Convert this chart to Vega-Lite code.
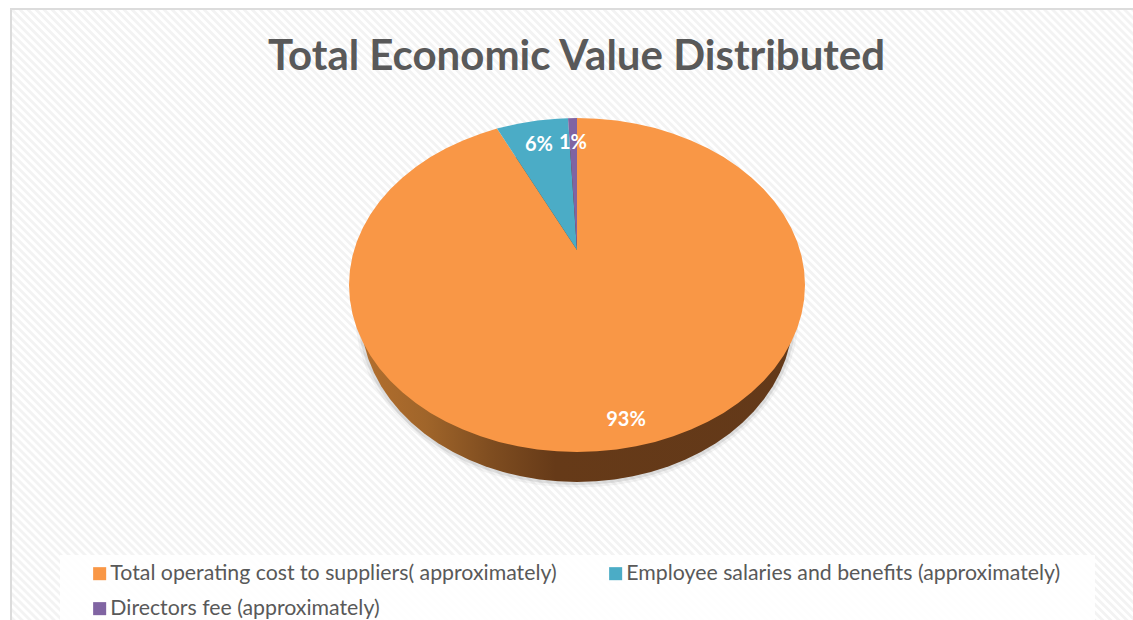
{
"$schema":"https://vega.github.io/schema/vega-lite/v6.json",
"autosize":{"type":"none"},
"width":1121,"height":610,
"padding":{"left":12,"top":10,"right":0,"bottom":0},
"background":"#ffffff",
"view":{"stroke":null},
"title":{"text":"Total Economic Value Distributed","font":"Lato","fontWeight":"bold","fontSize":42,"color":"#595959","anchor":"middle","frame":"group","offset":-72,"dx":4},
"datasets":{
"slices":[
{"id":1,"slice":"Total operating cost to suppliers( approximately)","share":0.934},
{"id":2,"slice":"Employee salaries and benefits (approximately)","share":0.059},
{"id":3,"slice":"Directors fee (approximately)","share":0.007}],
"hatch":[{"x0":0,"y0":610,"x1":1000,"y1":-390}],
"frame":[{"x0":-1,"y0":-2,"x1":-1,"y1":610},{"x0":-2,"y0":-1,"x1":1121,"y1":-1}],
"panel":[{"x0":48,"y0":545,"x1":1083,"y1":610}],
"rim":[
{"n":0,"u":0,"v":1},{"n":1,"u":0.0872,"v":0.9962},{"n":2,"u":0.1736,"v":0.9848},{"n":3,"u":0.2588,"v":0.9659},{"n":4,"u":0.342,"v":0.9397},{"n":5,"u":0.4226,"v":0.9063},{"n":6,"u":0.5,"v":0.866},{"n":7,"u":0.5736,"v":0.8192},{"n":8,"u":0.6428,"v":0.766},{"n":9,"u":0.7071,"v":0.7071},{"n":10,"u":0.766,"v":0.6428},{"n":11,"u":0.8192,"v":0.5736},{"n":12,"u":0.866,"v":0.5},{"n":13,"u":0.9063,"v":0.4226},{"n":14,"u":0.9397,"v":0.342},{"n":15,"u":0.9659,"v":0.2588},{"n":16,"u":0.9848,"v":0.1736},{"n":17,"u":0.9962,"v":0.0872},
{"n":18,"u":1,"v":0},{"n":19,"u":0.9962,"v":-0.0872},{"n":20,"u":0.9848,"v":-0.1736},{"n":21,"u":0.9659,"v":-0.2588},{"n":22,"u":0.9397,"v":-0.342},{"n":23,"u":0.9063,"v":-0.4226},{"n":24,"u":0.866,"v":-0.5},{"n":25,"u":0.8192,"v":-0.5736},{"n":26,"u":0.766,"v":-0.6428},{"n":27,"u":0.7071,"v":-0.7071},{"n":28,"u":0.6428,"v":-0.766},{"n":29,"u":0.5736,"v":-0.8192},{"n":30,"u":0.5,"v":-0.866},{"n":31,"u":0.4226,"v":-0.9063},{"n":32,"u":0.342,"v":-0.9397},{"n":33,"u":0.2588,"v":-0.9659},{"n":34,"u":0.1736,"v":-0.9848},{"n":35,"u":0.0872,"v":-0.9962},
{"n":36,"u":0,"v":-1},{"n":37,"u":-0.0872,"v":-0.9962},{"n":38,"u":-0.1736,"v":-0.9848},{"n":39,"u":-0.2588,"v":-0.9659},{"n":40,"u":-0.342,"v":-0.9397},{"n":41,"u":-0.4226,"v":-0.9063},{"n":42,"u":-0.5,"v":-0.866},{"n":43,"u":-0.5736,"v":-0.8192},{"n":44,"u":-0.6428,"v":-0.766},{"n":45,"u":-0.7071,"v":-0.7071},{"n":46,"u":-0.766,"v":-0.6428},{"n":47,"u":-0.8192,"v":-0.5736},{"n":48,"u":-0.866,"v":-0.5},{"n":49,"u":-0.9063,"v":-0.4226},{"n":50,"u":-0.9397,"v":-0.342},{"n":51,"u":-0.9659,"v":-0.2588},{"n":52,"u":-0.9848,"v":-0.1736},{"n":53,"u":-0.9962,"v":-0.0872},
{"n":54,"u":-1,"v":0},{"n":55,"u":-0.9962,"v":0.0872},{"n":56,"u":-0.9848,"v":0.1736},{"n":57,"u":-0.9659,"v":0.2588},{"n":58,"u":-0.9397,"v":0.342},{"n":59,"u":-0.9063,"v":0.4226},{"n":60,"u":-0.866,"v":0.5},{"n":61,"u":-0.8192,"v":0.5736},{"n":62,"u":-0.766,"v":0.6428},{"n":63,"u":-0.7071,"v":0.7071},{"n":64,"u":-0.6428,"v":0.766},{"n":65,"u":-0.5736,"v":0.8192},{"n":66,"u":-0.5,"v":0.866},{"n":67,"u":-0.4226,"v":0.9063},{"n":68,"u":-0.342,"v":0.9397},{"n":69,"u":-0.2588,"v":0.9659},{"n":70,"u":-0.1736,"v":0.9848},{"n":71,"u":-0.0872,"v":0.9962}],
"wedges":[
{"id":1,"n":0,"u":0,"v":0.2096},
{"id":1,"n":1,"u":0,"v":1},{"id":1,"n":2,"u":0.0872,"v":0.9962},{"id":1,"n":3,"u":0.1736,"v":0.9848},{"id":1,"n":4,"u":0.2588,"v":0.9659},{"id":1,"n":5,"u":0.342,"v":0.9397},{"id":1,"n":6,"u":0.4226,"v":0.9063},{"id":1,"n":7,"u":0.5,"v":0.866},{"id":1,"n":8,"u":0.5736,"v":0.8192},{"id":1,"n":9,"u":0.6428,"v":0.766},{"id":1,"n":10,"u":0.7071,"v":0.7071},{"id":1,"n":11,"u":0.766,"v":0.6428},{"id":1,"n":12,"u":0.8192,"v":0.5736},{"id":1,"n":13,"u":0.866,"v":0.5},{"id":1,"n":14,"u":0.9063,"v":0.4226},{"id":1,"n":15,"u":0.9397,"v":0.342},{"id":1,"n":16,"u":0.9659,"v":0.2588},{"id":1,"n":17,"u":0.9848,"v":0.1736},{"id":1,"n":18,"u":0.9962,"v":0.0872},
{"id":1,"n":19,"u":1,"v":0},{"id":1,"n":20,"u":0.9962,"v":-0.0872},{"id":1,"n":21,"u":0.9848,"v":-0.1736},{"id":1,"n":22,"u":0.9659,"v":-0.2588},{"id":1,"n":23,"u":0.9397,"v":-0.342},{"id":1,"n":24,"u":0.9063,"v":-0.4226},{"id":1,"n":25,"u":0.866,"v":-0.5},{"id":1,"n":26,"u":0.8192,"v":-0.5736},{"id":1,"n":27,"u":0.766,"v":-0.6428},{"id":1,"n":28,"u":0.7071,"v":-0.7071},{"id":1,"n":29,"u":0.6428,"v":-0.766},{"id":1,"n":30,"u":0.5736,"v":-0.8192},{"id":1,"n":31,"u":0.5,"v":-0.866},{"id":1,"n":32,"u":0.4226,"v":-0.9063},{"id":1,"n":33,"u":0.342,"v":-0.9397},{"id":1,"n":34,"u":0.2588,"v":-0.9659},{"id":1,"n":35,"u":0.1736,"v":-0.9848},{"id":1,"n":36,"u":0.0872,"v":-0.9962},
{"id":1,"n":37,"u":0,"v":-1},{"id":1,"n":38,"u":-0.0872,"v":-0.9962},{"id":1,"n":39,"u":-0.1736,"v":-0.9848},{"id":1,"n":40,"u":-0.2588,"v":-0.9659},{"id":1,"n":41,"u":-0.342,"v":-0.9397},{"id":1,"n":42,"u":-0.4226,"v":-0.9063},{"id":1,"n":43,"u":-0.5,"v":-0.866},{"id":1,"n":44,"u":-0.5736,"v":-0.8192},{"id":1,"n":45,"u":-0.6428,"v":-0.766},{"id":1,"n":46,"u":-0.7071,"v":-0.7071},{"id":1,"n":47,"u":-0.766,"v":-0.6428},{"id":1,"n":48,"u":-0.8192,"v":-0.5736},{"id":1,"n":49,"u":-0.866,"v":-0.5},{"id":1,"n":50,"u":-0.9063,"v":-0.4226},{"id":1,"n":51,"u":-0.9397,"v":-0.342},{"id":1,"n":52,"u":-0.9659,"v":-0.2588},{"id":1,"n":53,"u":-0.9848,"v":-0.1736},{"id":1,"n":54,"u":-0.9962,"v":-0.0872},
{"id":1,"n":55,"u":-1,"v":0},{"id":1,"n":56,"u":-0.9962,"v":0.0872},{"id":1,"n":57,"u":-0.9848,"v":0.1736},{"id":1,"n":58,"u":-0.9659,"v":0.2588},{"id":1,"n":59,"u":-0.9397,"v":0.342},{"id":1,"n":60,"u":-0.9063,"v":0.4226},{"id":1,"n":61,"u":-0.866,"v":0.5},{"id":1,"n":62,"u":-0.8192,"v":0.5736},{"id":1,"n":63,"u":-0.766,"v":0.6428},{"id":1,"n":64,"u":-0.7071,"v":0.7071},{"id":1,"n":65,"u":-0.6428,"v":0.766},{"id":1,"n":66,"u":-0.5736,"v":0.8192},{"id":1,"n":67,"u":-0.5,"v":0.866},{"id":1,"n":68,"u":-0.4226,"v":0.9063},{"id":1,"n":69,"u":-0.351,"v":0.9364},
{"id":2,"n":0,"u":0,"v":0.2096},{"id":2,"n":1,"u":-0.351,"v":0.9364},{"id":2,"n":2,"u":-0.2588,"v":0.9659},{"id":2,"n":3,"u":-0.1736,"v":0.9848},{"id":2,"n":4,"u":-0.0872,"v":0.9962},{"id":2,"n":5,"u":-0.0395,"v":0.9992},
{"id":3,"n":0,"u":0,"v":0.2096},{"id":3,"n":1,"u":-0.0395,"v":0.9992},{"id":3,"n":2,"u":0,"v":1}]
},
"layer":[
{"data":{"name":"hatch"},
 "mark":{"type":"rule","clip":true,"color":"#f3f3f3","strokeWidth":1700,"strokeDash":[2.83,2.83]},
 "encoding":{
  "x":{"field":"x0","type":"quantitative","scale":{"domain":[0,1121],"nice":false,"zero":false},"axis":null},
  "x2":{"field":"x1"},
  "y":{"field":"y0","type":"quantitative","scale":{"domain":[610,0],"nice":false,"zero":false},"axis":null},
  "y2":{"field":"y1"}}},
{"data":{"name":"frame"},
 "mark":{"type":"rule","color":"#dcdcdc","strokeWidth":2},
 "encoding":{
  "x":{"field":"x0","type":"quantitative","scale":{"domain":[0,1121],"nice":false,"zero":false},"axis":null},
  "x2":{"field":"x1"},
  "y":{"field":"y0","type":"quantitative","scale":{"domain":[610,0],"nice":false,"zero":false},"axis":null},
  "y2":{"field":"y1"}}},
{"data":{"name":"panel"},
 "mark":{"type":"rect","color":"#ffffff","opacity":0.85},
 "encoding":{
  "x":{"field":"x0","type":"quantitative","scale":{"domain":[0,1121],"nice":false,"zero":false},"axis":null},
  "x2":{"field":"x1"},
  "y":{"field":"y0","type":"quantitative","scale":{"domain":[610,0],"nice":false,"zero":false},"axis":null},
  "y2":{"field":"y1"}}},
{"data":{"name":"rim"},
 "mark":{"type":"line","interpolate":"linear-closed","color":"#9a9a9a","strokeWidth":11,"opacity":0.12},
 "encoding":{
  "order":{"field":"n"},
  "x":{"field":"u","type":"quantitative","scale":{"domain":[-2.6157,2.5741],"nice":false,"zero":false},"axis":null},
  "y":{"field":"v","type":"quantitative","scale":{"domain":[-1.8313,1.8434],"nice":false,"zero":false},"axis":null}}},
{"data":{"name":"rim"},
 "mark":{"type":"line","interpolate":"linear-closed","color":"#8a8a8a","strokeWidth":6,"opacity":0.2},
 "encoding":{
  "order":{"field":"n"},
  "x":{"field":"u","type":"quantitative","scale":{"domain":[-2.6157,2.5741],"nice":false,"zero":false},"axis":null},
  "y":{"field":"v","type":"quantitative","scale":{"domain":[-1.8313,1.8434],"nice":false,"zero":false},"axis":null}}},
{"data":{"name":"rim"},
 "mark":{"type":"line","interpolate":"linear-closed","strokeWidth":0,"fill":{"gradient":"linear","x1":0,"y1":0,"x2":1,"y2":0,"stops":[{"offset":0,"color":"#b36f2e"},{"offset":0.15,"color":"#a0652a"},{"offset":0.3,"color":"#7f4d20"},{"offset":0.45,"color":"#663a18"},{"offset":1,"color":"#633919"}]}},
 "encoding":{
  "order":{"field":"n"},
  "x":{"field":"u","type":"quantitative","scale":{"domain":[-2.6157,2.5741],"nice":false,"zero":false},"axis":null},
  "y":{"field":"v","type":"quantitative","scale":{"domain":[-1.8313,1.8434],"nice":false,"zero":false},"axis":null}}},
{"data":{"name":"wedges"},
 "transform":[{"lookup":"id","from":{"data":{"name":"slices"},"key":"id","fields":["slice","share"]}}],
 "mark":{"type":"line","interpolate":"linear-closed","strokeWidth":0},
 "encoding":{
  "order":{"field":"n"},
  "x":{"field":"u","type":"quantitative","scale":{"domain":[-2.4781,2.4386],"nice":false,"zero":false},"axis":null},
  "y":{"field":"v","type":"quantitative","scale":{"domain":[-2.006,1.6467],"nice":false,"zero":false},"axis":null},
  "fill":{"field":"slice","type":"nominal","scale":{"domain":["Total operating cost to suppliers( approximately)","Employee salaries and benefits (approximately)","Directors fee (approximately)"],"range":["#f99746","#4bacc6","#8064a2"]},
   "legend":{"title":null,"orient":"none","legendX":77,"legendY":553,"columns":2,"direction":"horizontal","symbolType":"square","symbolSize":170,"symbolStrokeWidth":0,"labelFont":"Lato","labelFontSize":21.3,"labelColor":"#595959","labelLimit":600,"columnPadding":48,"rowPadding":13,"labelOffset":0,"padding":0}}}},
{"data":{"name":"slices"},
 "transform":[{"filter":"datum.id === 1"}],
 "mark":{"type":"text","font":"Lato","fontWeight":"bold","fontSize":20,"color":"#ffffff"},
 "encoding":{
  "x":{"datum":0.215,"type":"quantitative","scale":{"domain":[-2.4781,2.4386],"nice":false,"zero":false},"axis":null},
  "y":{"datum":-0.811,"type":"quantitative","scale":{"domain":[-2.006,1.6467],"nice":false,"zero":false},"axis":null},
  "text":{"field":"share","type":"quantitative","format":".0%"}}},
{"data":{"name":"slices"},
 "transform":[{"filter":"datum.id === 2"}],
 "mark":{"type":"text","font":"Lato","fontWeight":"bold","fontSize":20,"color":"#ffffff"},
 "encoding":{
  "x":{"datum":-0.167,"type":"quantitative","scale":{"domain":[-2.4781,2.4386],"nice":false,"zero":false},"axis":null},
  "y":{"datum":0.838,"type":"quantitative","scale":{"domain":[-2.006,1.6467],"nice":false,"zero":false},"axis":null},
  "text":{"field":"share","type":"quantitative","format":".0%"}}},
{"data":{"name":"slices"},
 "transform":[{"filter":"datum.id === 3"}],
 "mark":{"type":"text","font":"Lato","fontWeight":"bold","fontSize":20,"color":"#ffffff"},
 "encoding":{
  "x":{"datum":-0.0175,"type":"quantitative","scale":{"domain":[-2.4781,2.4386],"nice":false,"zero":false},"axis":null},
  "y":{"datum":0.85,"type":"quantitative","scale":{"domain":[-2.006,1.6467],"nice":false,"zero":false},"axis":null},
  "text":{"field":"share","type":"quantitative","format":".0%"}}}
],
"resolve":{"scale":{"x":"independent","y":"independent"}}
}
